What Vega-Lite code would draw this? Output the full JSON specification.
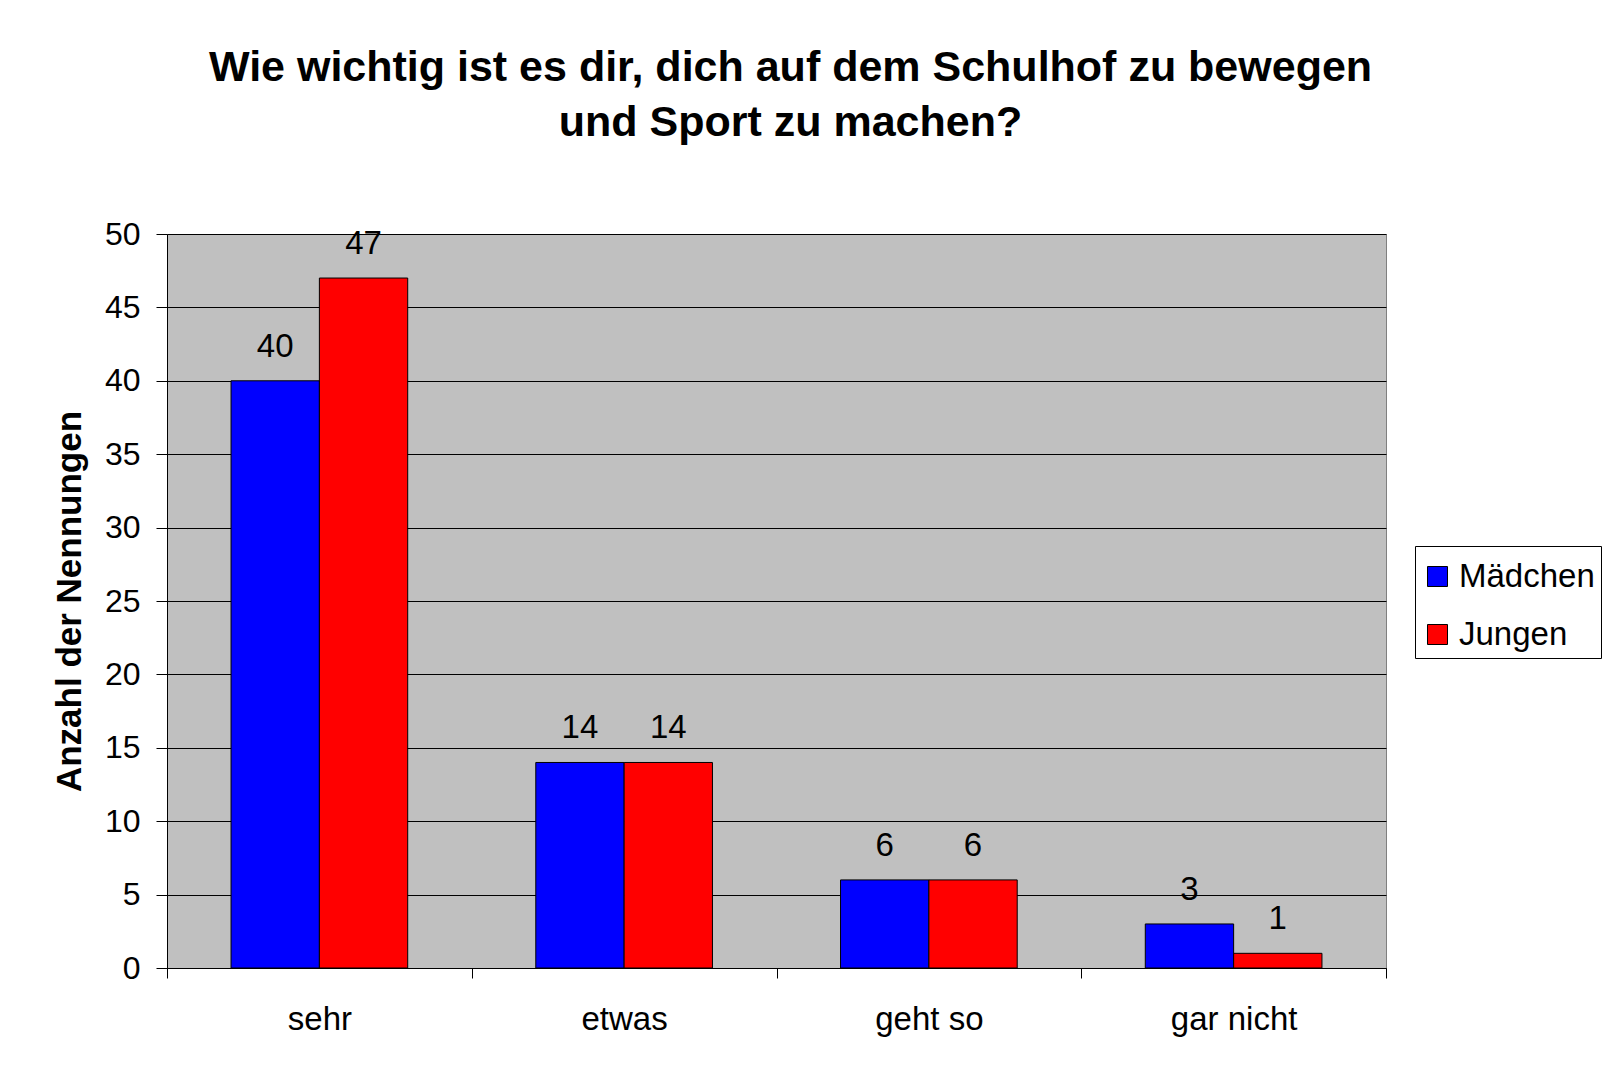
{
  "$schema": "https://vega.github.io/schema/vega-lite/v6.json",
  "width": 1219,
  "height": 734,
  "autosize": {"type": "none"},
  "padding": {"left": 167, "top": 234, "right": 230, "bottom": 102},
  "background": "white",
  "title": {
    "text": ["Wie wichtig ist es dir, dich auf dem Schulhof zu bewegen", "\u00a0\u00a0\u00a0\u00a0\u00a0und Sport zu machen?"],
    "font": "Liberation Sans",
    "fontSize": 43,
    "fontWeight": "bold",
    "lineHeight": 55,
    "color": "black",
    "anchor": "middle",
    "dx": 14,
    "offset": 73
  },
  "data": {
    "values": [
      {"kat": "sehr", "gruppe": "Mädchen", "n": 40},
      {"kat": "sehr", "gruppe": "Jungen", "n": 47},
      {"kat": "etwas", "gruppe": "Mädchen", "n": 14},
      {"kat": "etwas", "gruppe": "Jungen", "n": 14},
      {"kat": "geht so", "gruppe": "Mädchen", "n": 6},
      {"kat": "geht so", "gruppe": "Jungen", "n": 6},
      {"kat": "gar nicht", "gruppe": "Mädchen", "n": 3},
      {"kat": "gar nicht", "gruppe": "Jungen", "n": 1}
    ]
  },
  "encoding": {
    "x": {
      "field": "kat",
      "type": "nominal",
      "sort": ["sehr", "etwas", "geht so", "gar nicht"],
      "scale": {"paddingInner": 0, "paddingOuter": 0},
      "axis": {
        "title": null,
        "labelAngle": 0,
        "labelFont": "Liberation Sans",
        "labelFontSize": 33,
        "labelColor": "black",
        "labelPadding": 25,
        "tickBand": "extent",
        "tickSize": 10,
        "tickColor": "black",
        "domainColor": "black",
        "grid": false
      }
    },
    "xOffset": {
      "field": "gruppe",
      "type": "nominal",
      "sort": ["Mädchen", "Jungen"],
      "scale": {"paddingInner": 0, "paddingOuter": 0.725}
    },
    "y": {
      "field": "n",
      "type": "quantitative",
      "scale": {"domain": [0, 50], "nice": false},
      "axis": {
        "values": [0, 5, 10, 15, 20, 25, 30, 35, 40, 45, 50],
        "title": "Anzahl der Nennungen",
        "titleFont": "Liberation Sans",
        "titleFontSize": 35,
        "titleFontWeight": "bold",
        "titleColor": "black",
        "titlePadding": 17,
        "labelFont": "Liberation Sans",
        "labelFontSize": 32,
        "labelColor": "black",
        "labelPadding": 16,
        "tickSize": 11,
        "tickColor": "black",
        "domainColor": "black",
        "grid": true,
        "gridColor": "black",
        "gridOpacity": 1,
        "gridWidth": 1
      }
    }
  },
  "layer": [
    {
      "mark": {"type": "bar", "stroke": "black", "strokeWidth": 1},
      "encoding": {
        "color": {
          "field": "gruppe",
          "type": "nominal",
          "sort": ["Mädchen", "Jungen"],
          "scale": {"domain": ["Mädchen", "Jungen"], "range": ["#0000FF", "#FF0000"]},
          "legend": {
            "title": " ",
            "titleFontSize": 1,
            "titlePadding": 7,
            "orient": "none",
            "legendX": 1248,
            "legendY": 312,
            "strokeColor": "black",
            "fillColor": "white",
            "padding": 6,
            "labelFont": "Liberation Sans",
            "labelFontSize": 33,
            "labelColor": "black",
            "labelOffset": 5,
            "symbolType": "square",
            "symbolSize": 400,
            "symbolStrokeColor": "black",
            "symbolStrokeWidth": 1,
            "rowPadding": 24
          }
        }
      }
    },
    {
      "mark": {"type": "text", "dy": -24, "baseline": "alphabetic", "font": "Liberation Sans", "fontSize": 33, "color": "black"},
      "encoding": {"text": {"field": "n", "type": "quantitative"}}
    }
  ],
  "config": {
    "view": {"fill": "#C0C0C0", "stroke": "#808080", "strokeWidth": 1}
  }
}
